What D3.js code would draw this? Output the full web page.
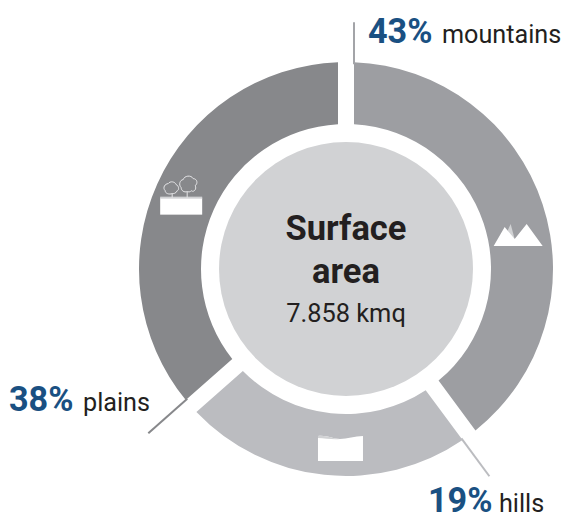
<!DOCTYPE html>
<html>
<head>
<meta charset="utf-8">
<script src="https://cdn.jsdelivr.net/npm/d3@7"></script>
<style>
  html, body { margin: 0; padding: 0; background: #fff; }
  svg { display: block; font-family: Roboto, sans-serif; }
</style>
</head>
<body>
<div id="chart"></div>
<script>
// labels as printed on the chart
const categories = ["mountains", "hills", "plains"];
const shares = [43, 19, 38];
// the rings are not drawn to the printed shares, these sweeps are read off the picture (degrees)
const sweeps = [143.5, 85, 131.5];
const leaderEnds = [247, 252, 257];
const iconAngles = [78.8, 181.6, 293.7];
const iconRadii = [175, 180, 180];
const ringColors = ["#9d9ea2", "#bbbcc0", "#87888b"];
const leaderColors = ["#a3a4a8", "#bbbcc0", "#87888b"];
const titleLines = ["Surface", "area"];
const subtitle = "7.858 kmq";

const width = 563;
const height = 514;
const cx = 346;
const cy = 269;
const outerR = 207;
const innerR = 145;
const coreR = 127;
const gap = 16;
const blue = "#1a5082";
const ink = "#231f20";

const svg = d3.select("#chart")
    .append("svg")
    .attr("width", width)
    .attr("height", height)
    .attr("viewBox", [0, 0, width, height]);

const g = svg.append("g").attr("transform", `translate(${cx},${cy})`);

const pie = d3.pie().sort(null).value(d => d);
const slices = pie(sweeps);

const arc = d3.arc()
    .innerRadius(innerR)
    .outerRadius(outerR)
    .padRadius(outerR)
    .padAngle(2 * Math.asin((gap / 2) / outerR));

g.selectAll("path.slice")
  .data(slices)
  .join("path")
    .attr("class", "slice")
    .attr("d", arc)
    .attr("fill", (d, i) => ringColors[i]);

g.append("circle").attr("r", coreR).attr("fill", "#d1d2d4");

// each leader carries on from the start edge of its slice
function edgePoint(angle, r) {
  const ux = Math.sin(angle), uy = -Math.cos(angle);
  const nx = Math.cos(angle), ny = Math.sin(angle);
  const along = Math.sqrt(r * r - gap * gap / 4);
  return [ux * along + nx * gap / 2, uy * along + ny * gap / 2];
}

g.selectAll("line.leader")
  .data(slices)
  .join("line")
    .attr("class", "leader")
    .attr("stroke", (d, i) => leaderColors[i])
    .attr("stroke-width", 2)
    .each(function(d, i) {
      const p0 = edgePoint(d.startAngle, outerR - 2);
      const p1 = edgePoint(d.startAngle, leaderEnds[i]);
      d3.select(this).attr("x1", p0[0]).attr("y1", p0[1]).attr("x2", p1[0]).attr("y2", p1[1]);
    });

// small white pictograms, drawn around their own origin
const icons = g.selectAll("g.icon")
  .data(iconAngles)
  .join("g")
    .attr("class", "icon")
    .attr("transform", (d, i) => {
      const a = d * Math.PI / 180;
      return `translate(${iconRadii[i] * Math.sin(a)},${-iconRadii[i] * Math.cos(a)})`;
    });

const mountain = d3.select(icons.nodes()[0]);
mountain.append("path").attr("fill", "#d1d2d4").attr("d", "M-13,2 L-7,-11 L-2,8 Z");
mountain.append("path").attr("fill", "#fff")
    .attr("d", "M-24,11 L-13,-8 L-3,4 L9,-11 L25,11 Z");

const hill = d3.select(icons.nodes()[1]);
hill.append("path").attr("fill", "#fff")
    .attr("d", "M-23,-13 C-14,-14 -8,-10 -1,-10 C6,-10 14,-13 22,-13 L22,12 L-23,12 Z");
hill.append("path").attr("fill", "#d1d2d4")
    .attr("d", "M-23,-13 C-14,-14 -8,-10 -1,-10 C-8,-9 -16,-11 -23,-11 Z");

const plain = d3.select(icons.nodes()[2]);
plain.append("rect").attr("x", -21).attr("y", 1).attr("width", 42).attr("height", 17).attr("fill", "#fff");
plain.append("rect").attr("x", -21).attr("y", 0).attr("width", 42).attr("height", 2).attr("fill", "#d1d2d4");
[
  "M-9,-3 L-9,1 M-9,-3 C-12,-2 -16,-3 -16,-6 C-19,-9 -16,-13 -13,-13 C-11,-16 -6,-15 -5,-12 C-2,-11 -2,-6 -4,-6 C-5,-3 -8,-3 -9,-3",
  "M6,-5 L6,1 M6,-5 C3,-4 0,-6 0,-9 C-3,-12 -1,-17 2,-17 C3,-21 10,-22 12,-18 C16,-18 17,-13 14,-11 C16,-7 12,-4 10,-6 C9,-4 7,-5 6,-5"
].forEach(p => {
  plain.append("path").attr("d", p)
      .attr("fill", "none").attr("stroke", "#e6e6e8").attr("stroke-width", 1);
});

// centre text
const centre = svg.append("g").attr("text-anchor", "middle").attr("fill", ink);
centre.selectAll("text.title")
  .data(titleLines)
  .join("text")
    .attr("class", "title")
    .attr("x", cx)
    .attr("y", (d, i) => 240 + i * 43)
    .attr("font-size", 34.5)
    .attr("font-weight", 700)
    .text(d => d);
centre.append("text")
    .attr("x", cx)
    .attr("y", 322)
    .attr("font-size", 25.4)
    .text(subtitle);

// outside labels
const labelPos = [
  { x: 368, nameX: 442, y: 43 },
  { x: 428, nameX: 499, y: 512 },
  { x: 9, nameX: 83, y: 411 }
];
categories.forEach((c, i) => {
  const p = labelPos[i];
  svg.append("text")
      .attr("x", p.x).attr("y", p.y)
      .attr("font-size", 34.2).attr("font-weight", 700).attr("fill", blue)
      .text(shares[i] + "%");
  svg.append("text")
      .attr("x", p.nameX).attr("y", p.y)
      .attr("font-size", 25.2).attr("fill", ink)
      .text(c);
});
</script>
</body>
</html>
